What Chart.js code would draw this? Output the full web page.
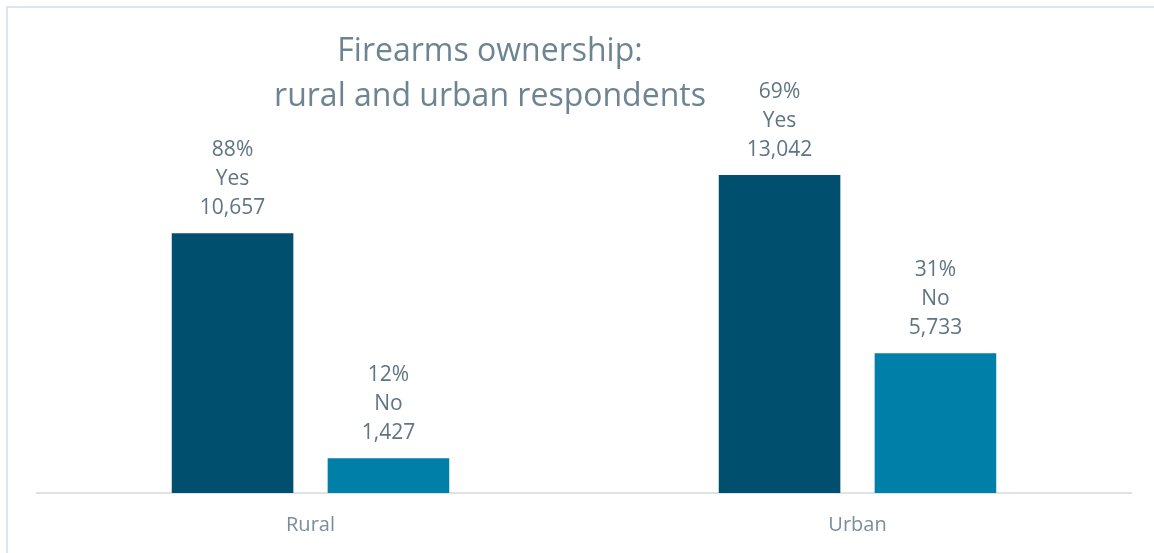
<!DOCTYPE html>
<html>
<head>
<meta charset="utf-8">
<script src="https://cdn.jsdelivr.net/npm/chart.js@4.4.1/dist/chart.umd.min.js"></script>
<style>
  html, body { margin: 0; padding: 0; background: #fff; }
  #wrap {
    position: relative;
    width: 1154px; height: 553px;
    overflow: hidden;
  }
  #frame {
    position: absolute; left: 6px; top: 6px;
    width: 1160px; height: 560px;
    border-left: 2px solid #dfe4e8;
    border-top: 2px solid #dfe4e8;
  }
  canvas { position: absolute; left: 0; top: 0; }
</style>
</head>
<body>
<div id="wrap">
  <div id="frame"></div>
  <canvas id="ownChart" width="1154" height="553"></canvas>
</div>
<script>
const categories = ["Rural", "Urban"];
const yesCounts = [10657, 13042];
const noCounts = [1427, 5733];
const yesShares = ["88%", "69%"];
const noShares = ["12%", "31%"];
const titleLines = ["Firearms ownership:", "rural and urban respondents"];

const FONT = "'Open Sans', 'Noto Sans', sans-serif";

// three stacked labels (share / answer / count) over every bar
const barLabels = {
  id: "barLabels",
  afterDatasetsDraw(chart) {
    const ctx = chart.ctx;
    ctx.save();
    ctx.fillStyle = "#5f7583";
    ctx.font = "21px " + FONT;
    ctx.textAlign = "center";
    ctx.textBaseline = "alphabetic";
    chart.data.datasets.forEach((ds, di) => {
      const meta = chart.getDatasetMeta(di);
      meta.data.forEach((bar, i) => {
        const lines = [ds.shares[i], ds.label, ds.data[i].toLocaleString("en-US")];
        let y = bar.y - 19;
        for (let k = lines.length - 1; k >= 0; k--) {
          ctx.fillText(lines[k], bar.x, y);
          y -= 29;
        }
      });
    });
    ctx.restore();
  }
};

// two-line title, set left of centre
const sideTitle = {
  id: "sideTitle",
  afterDraw(chart) {
    const ctx = chart.ctx;
    ctx.save();
    ctx.fillStyle = "#6d8593";
    ctx.font = "32px " + FONT;
    ctx.textAlign = "center";
    const cx = 490;
    ctx.fillText(titleLines[0], cx, 61);
    ctx.fillText(titleLines[1], cx, 106);
    ctx.restore();
  }
};

new Chart(document.getElementById("ownChart"), {
  type: "bar",
  data: {
    labels: categories,
    datasets: [
      {
        label: "Yes",
        data: yesCounts,
        shares: yesShares,
        backgroundColor: "#014f6e",
        categoryPercentage: 0.57,
        barPercentage: 0.78
      },
      {
        label: "No",
        data: noCounts,
        shares: noShares,
        backgroundColor: "#0080a9",
        categoryPercentage: 0.57,
        barPercentage: 0.78
      }
    ]
  },
  options: {
    responsive: false,
    animation: false,
    layout: { padding: { left: 37, right: 23, top: 103, bottom: 0 } },
    plugins: {
      legend: { display: false },
      tooltip: { enabled: false },
      title: { display: false }
    },
    scales: {
      x: {
        grid: { display: false, drawTicks: false },
        border: { color: "#dfe3e6", width: 2 },
        ticks: { color: "#7a8e9b", font: { family: FONT, size: 20 }, padding: 20 },
        afterFit(axis) { axis.height = 60; }
      },
      y: {
        display: false,
        min: 0,
        max: 16000
      }
    }
  },
  plugins: [barLabels, sideTitle]
});
</script>
</body>
</html>
